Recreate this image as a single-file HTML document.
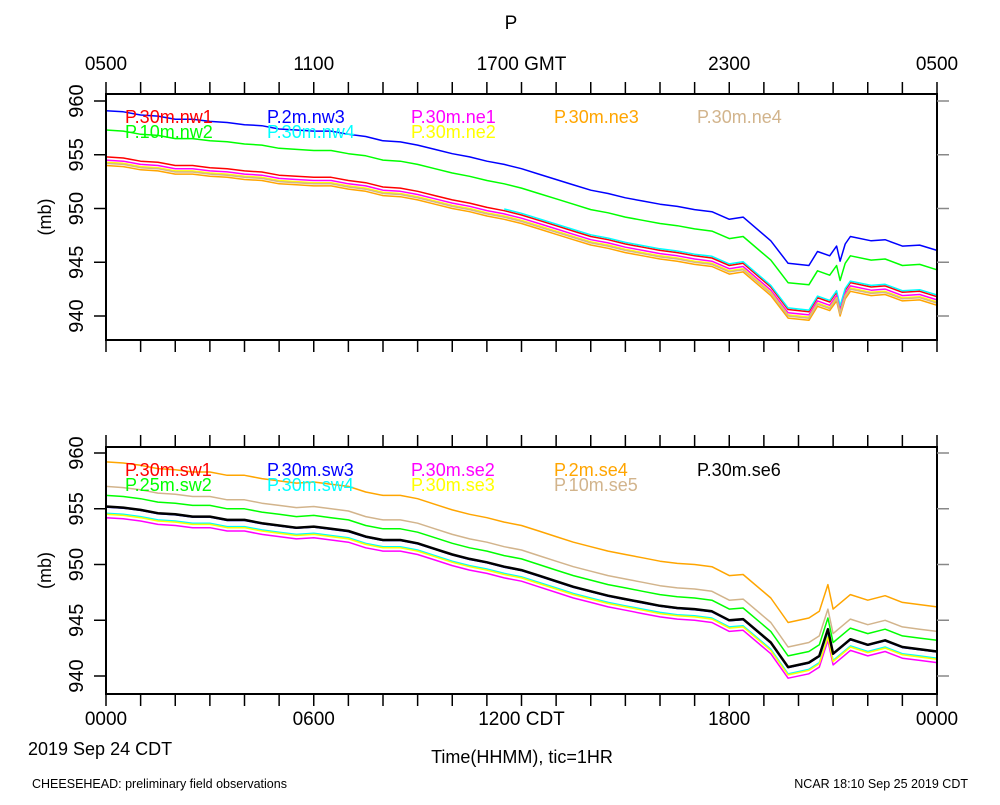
<!DOCTYPE html>
<html><head><meta charset="utf-8"><style>
body{margin:0;background:#fff}
svg text{font-family:"Liberation Sans",sans-serif}
</style></head><body>
<svg id="c" width="1000" height="800" viewBox="0 0 1000 800" xmlns="http://www.w3.org/2000/svg">
<text x="511" y="29" font-size="19" text-anchor="middle">P</text>
<text x="28" y="755" font-size="18">2019 Sep 24 CDT</text>
<text x="522" y="763" font-size="18" text-anchor="middle">Time(HHMM), tic=1HR</text>
<text x="32" y="788" font-size="12.5">CHEESEHEAD: preliminary field observations</text>
<text x="968" y="788" font-size="12.5" text-anchor="end">NCAR 18:10 Sep 25 2019 CDT</text>
<g id="g"></g>
</svg>
<script>
// data
const yTicks = [940, 945, 950, 955, 960];
const topTimeLabels = ["0500", "1100", "1700 GMT", "2300", "0500"];
const botTimeLabels = ["0000", "0600", "1200 CDT", "1800", "0000"];
const topShapeH = [0,0.5,1,1.5,2,2.5,3,3.5,4,4.5,5,5.5,6,6.5,7,7.5,8,8.5,9,9.5,10,10.5,11,11.5,12,12.5,13,13.5,14,14.5,15,15.5,16,16.5,17,17.5,18,18.4,19.2,19.7,20.3,20.55,20.9,21.1,21.2,21.35,21.5,22.1,22.5,23,23.5,24];
const topShapeV = [954.8,954.7,954.4,954.3,954.0,954.0,953.8,953.7,953.5,953.4,953.1,953.0,952.9,952.9,952.6,952.4,952.0,951.9,951.6,951.2,950.8,950.5,950.1,949.8,949.4,948.9,948.4,947.9,947.4,947.1,946.7,946.4,946.1,945.9,945.6,945.4,944.7,944.9,942.7,940.6,940.4,941.7,941.3,942.2,940.8,942.4,943.1,942.7,942.8,942.2,942.3,941.8];
const botShapeH = [0,0.5,1,1.5,2,2.5,3,3.5,4,4.5,5,5.5,6,6.5,7,7.5,8,8.5,9,9.5,10,10.5,11,11.5,12,12.5,13,13.5,14,14.5,15,15.5,16,16.5,17,17.5,18,18.4,19.2,19.7,20.3,20.6,20.85,21.0,21.5,22,22.5,23,23.5,24];
const botShapeV = [955.2,955.1,954.9,954.6,954.5,954.3,954.3,954.0,954.0,953.7,953.5,953.3,953.4,953.2,953.0,952.5,952.2,952.2,951.9,951.4,950.9,950.5,950.2,949.8,949.5,949.0,948.5,948.0,947.6,947.2,946.9,946.6,946.3,946.1,946.0,945.8,945.0,945.1,943.0,940.8,941.2,941.8,944.2,942.0,943.3,942.8,943.2,942.6,942.4,942.2];
const topNames = ["P.30m.nw1","P.10m.nw2","P.2m.nw3","P.30m.nw4","P.30m.ne1","P.30m.ne2","P.30m.ne3","P.30m.ne4"];
const topOffsets = [0, 2.5, 4.3, 0.15, -0.3, -0.5, -0.8, -0.6];
const topStart = [0, 0, 0, 11.5, 0, 0, 0, 0];
const botNames = ["P.30m.sw1","P.25m.sw2","P.30m.sw3","P.30m.sw4","P.30m.se2","P.30m.se3","P.2m.se4","P.10m.se5","P.30m.se6"];
const botOffsets = [0, 1.0, -0.05, -0.6, -1.0, -0.7, 4.0, 1.8, 0];

const topColors = ["#ff0000","#00ff00","#0000ff","#00ffff","#ff00ff","#ffff00","#ffa500","#d2b48c"];
const botColors = ["#ff0000","#00ff00","#0000ff","#00ffff","#ff00ff","#ffff00","#ffa500","#d2b48c","#000000"];
const topLegCol = [0,0,1,1,2,2,3,4];
const topLegRow = [0,1,0,1,0,1,0,0];
const botLegCol = [0,0,1,1,2,2,3,3,4];
const botLegRow = [0,1,0,1,0,1,0,1,0];
const NS = "http://www.w3.org/2000/svg";
const G = document.getElementById('g');
const X0 = 106, X1 = 937;
const xs = h => X0 + (X1 - X0) * h / 24;
function mk(t, a, parent){const e=document.createElementNS(NS,t);for(const k in a)e.setAttribute(k,a[k]);(parent||G).appendChild(e);return e;}

function panel(id, top, bot, y960, y940, shapeH, shapeV, names, offsets, colors, starts, timeLabels, labelY, legY, legCol, legRow, drawOrder){
  const ys = v => y940 + (y960 - y940) * (v - 940) / 20;
  const g = mk('g', {});
  
  
  const order = drawOrder || names.map((_, i) => i);
  order.forEach(i => {
    let d = '';
    shapeH.forEach((h, k) => {
      if (h < starts[i]) return;
      d += (d ? 'L' : 'M') + xs(h).toFixed(1) + ',' + ys(shapeV[k] + offsets[i]).toFixed(1);
    });
    const p = mk('path', {d: d, fill: 'none', stroke: colors[i], 'stroke-width': colors[i] === '#000000' ? 2.5 : 1.5, 'stroke-linejoin': 'round'}, g);
    
    
  });
  const r = mk('rect', {x: X0, y: top, width: X1 - X0, height: bot - top, fill: 'none', stroke: '#000', 'stroke-width': 2}, g);
  
  
  for (let h = 0; h <= 24; h++) {
    const x = xs(h);
    mk('line', {x1: x, x2: x, y1: top, y2: top - 12, stroke: '#000', 'stroke-width': 1.5}, g);
    mk('line', {x1: x, x2: x, y1: bot, y2: bot + 12, stroke: '#000', 'stroke-width': 1.5}, g);
  }
  timeLabels.forEach((t, i) => {
    const tx = mk('text', {x: xs(i * 6), y: labelY, 'font-size': 19, 'text-anchor': 'middle'}, G);
    tx.textContent = t;
    
    
  });
  yTicks.forEach(v => {
    const y = ys(v);
    mk('line', {x1: X0, x2: X0 - 12, y1: y, y2: y, stroke: '#000', 'stroke-width': 1.5}, g);
    mk('line', {x1: X1, x2: X1 + 12, y1: y, y2: y, stroke: '#888', 'stroke-width': 1.5}, g);
    const tx = mk('text', {x: 0, y: 0, 'font-size': 20, 'text-anchor': 'middle', transform: `translate(${X0 - 23},${y}) rotate(-90)`}, g);
    tx.textContent = v;
    
    
  });
  const yt = mk('text', {x: 0, y: 0, 'font-size': 18, 'text-anchor': 'middle', transform: `translate(51,${(top + bot) / 2}) rotate(-90)`}, g);
  yt.textContent = '(mb)';
  
  
  const colX = [125, 267, 411, 554, 697];
  names.forEach((n, i) => {
    const tx = mk('text', {x: colX[legCol[i]], y: legY + legRow[i] * 15, 'font-size': 18, fill: colors[i]}, g);
    tx.textContent = n;
    
    
  });
}
panel('top', 94, 340, 101, 316, topShapeH, topShapeV, topNames, topOffsets, topColors, topStart, topTimeLabels, 70, 123, topLegCol, topLegRow);
panel('bottom', 447, 694, 453, 676, botShapeH, botShapeV, botNames, botOffsets, botColors, botNames.map(()=>0), botTimeLabels, 725, 476, botLegCol, botLegRow, [1,3,4,5,6,7,0,2,8]);
</script>
</body></html>
